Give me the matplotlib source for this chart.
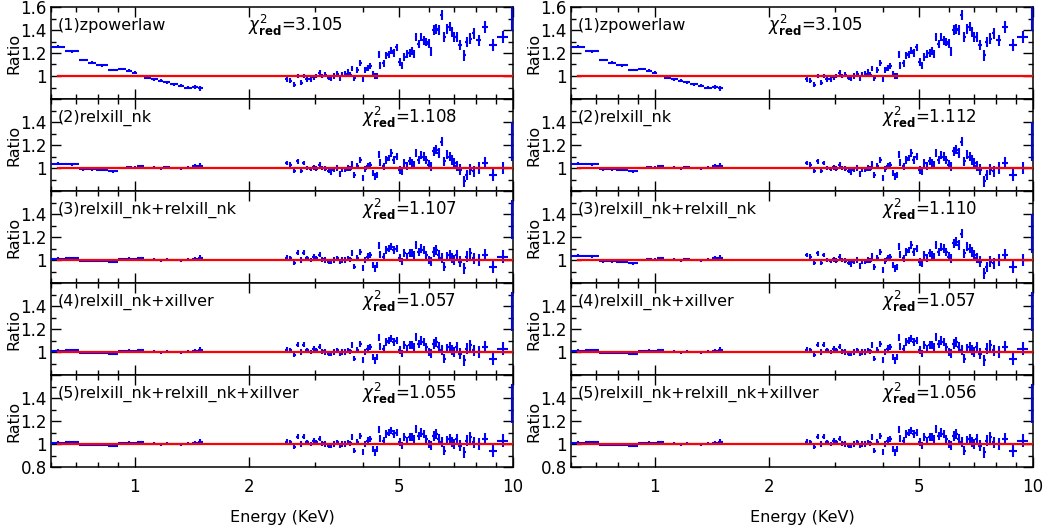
import matplotlib
matplotlib.use("Agg")
import matplotlib.pyplot as plt
from matplotlib.ticker import FixedLocator, LogLocator, NullFormatter, FuncFormatter

# low energy segment (keV): bin centres, half widths
low_e = [0.6275, 0.6825, 0.730, 0.770, 0.820, 0.875, 0.9225, 0.965, 1.000, 1.035,
         1.0775, 1.125, 1.170, 1.215, 1.270, 1.325, 1.385, 1.4425, 1.490]
low_de = [0.0275, 0.0275, 0.020, 0.020, 0.030, 0.025, 0.0225, 0.020, 0.015, 0.020,
          0.0225, 0.025, 0.020, 0.025, 0.030, 0.025, 0.035, 0.0225, 0.025]
low_err = [0.012, 0.012, 0.012, 0.012, 0.011, 0.011, 0.011, 0.012, 0.012, 0.013,
           0.012, 0.012, 0.013, 0.013, 0.013, 0.014, 0.014, 0.016, 0.022]

# high energy segment
high_e = [2.518, 2.579, 2.643, 2.697, 2.752, 2.797, 2.855, 2.914, 2.974, 3.022,
          3.084, 3.128, 3.192, 3.258, 3.304, 3.358, 3.427, 3.483, 3.532, 3.605,
          3.664, 3.716, 3.753, 3.807, 3.869, 3.948, 4.013, 4.070, 4.129, 4.196,
          4.264, 4.325, 4.369, 4.414, 4.459, 4.550, 4.625, 4.690, 4.767, 4.835,
          4.934, 5.014, 5.086, 5.159, 5.243, 5.329, 5.405, 5.482, 5.549, 5.628,
          5.709, 5.802, 5.897, 5.981, 6.067, 6.166, 6.267, 6.357, 6.487, 6.580,
          6.688, 6.797, 6.895, 6.993, 7.108, 7.253, 7.432, 7.553, 7.708, 7.866,
          8.109, 8.445, 8.847, 9.397, 9.935]
high_de = [0.028, 0.030, 0.027, 0.027, 0.025, 0.025, 0.029, 0.030, 0.028, 0.026,
           0.028, 0.027, 0.030, 0.028, 0.025, 0.030, 0.030, 0.025, 0.030, 0.033,
           0.028, 0.025, 0.025, 0.030, 0.035, 0.036, 0.030, 0.030, 0.032, 0.034,
           0.033, 0.026, 0.022, 0.022, 0.030, 0.040, 0.035, 0.035, 0.040, 0.040,
           0.045, 0.040, 0.036, 0.040, 0.043, 0.040, 0.038, 0.036, 0.036, 0.040,
           0.045, 0.048, 0.045, 0.044, 0.048, 0.050, 0.048, 0.055, 0.058, 0.050,
           0.055, 0.055, 0.050, 0.055, 0.065, 0.080, 0.070, 0.070, 0.080, 0.090,
           0.120, 0.150, 0.220, 0.300, 0.040]
high_err = [0.020, 0.020, 0.022, 0.020, 0.022, 0.020, 0.021, 0.020, 0.022, 0.021,
            0.022, 0.021, 0.022, 0.023, 0.022, 0.022, 0.023, 0.022, 0.024, 0.023,
            0.024, 0.023, 0.025, 0.024, 0.025, 0.026, 0.025, 0.026, 0.027, 0.026,
            0.027, 0.028, 0.027, 0.030, 0.029, 0.030, 0.031, 0.030, 0.032, 0.031,
            0.032, 0.033, 0.032, 0.034, 0.033, 0.034, 0.035, 0.034, 0.036, 0.037,
            0.036, 0.038, 0.037, 0.039, 0.038, 0.040, 0.041, 0.040, 0.042, 0.041,
            0.042, 0.043, 0.044, 0.043, 0.045, 0.046, 0.047, 0.046, 0.048, 0.047,
            0.050, 0.052, 0.054, 0.055, 0.170]

# ratios: zpowerlaw
pl_low = [1.256, 1.215, 1.140, 1.115, 1.093, 1.052, 1.060, 1.045, 1.030, 1.000,
          0.985, 0.970, 0.960, 0.945, 0.930, 0.915, 0.900, 0.903, 0.893]
pl_high = [0.970, 0.960, 0.925, 1.000, 0.940, 1.000, 0.970, 0.970, 0.990, 1.000,
           1.030, 1.000, 1.010, 0.985, 0.980, 1.000, 1.020, 0.980, 1.015, 1.020,
           1.035, 1.010, 1.065, 0.980, 1.050, 1.110, 0.970, 1.050, 1.070, 1.090,
           1.020, 1.000, 1.000, 1.190, 1.090, 1.110, 1.180, 1.190, 1.220, 1.200,
           1.250, 1.120, 1.090, 1.165, 1.190, 1.200, 1.220, 1.190, 1.340, 1.280,
           1.340, 1.310, 1.295, 1.280, 1.210, 1.400, 1.410, 1.400, 1.530, 1.340,
           1.410, 1.430, 1.380, 1.340, 1.340, 1.270, 1.180, 1.295, 1.325, 1.370,
           1.310, 1.430, 1.270, 1.340, 1.560]

# relxill_nk (line residual left)
rx_low = [1.038, 1.032, 0.988, 0.988, 0.982, 0.970, 1.000, 1.008, 1.003, 1.015,
          1.000, 1.003, 0.998, 1.005, 1.000, 0.998, 1.003, 1.015, 1.020]
rx_high = [1.045, 1.030, 0.977, 1.058, 0.977, 1.045, 1.000, 0.990, 1.005, 0.995,
           1.030, 1.000, 0.995, 0.977, 0.965, 0.985, 1.000, 0.948, 0.985, 0.985,
           1.000, 0.995, 1.035, 0.940, 1.015, 1.070, 0.913, 0.995, 1.015, 1.030,
           0.957, 0.928, 0.940, 1.116, 1.045, 1.015, 1.070, 1.087, 1.130, 1.070,
           1.100, 0.985, 0.970, 1.045, 1.015, 1.058, 1.045, 1.030, 1.130, 1.070,
           1.116, 1.100, 1.070, 1.030, 1.015, 1.145, 1.160, 1.130, 1.230, 1.058,
           1.116, 1.100, 1.070, 1.045, 1.015, 0.985, 0.884, 0.940, 0.985, 0.970,
           1.000, 1.045, 0.940, 1.000, 1.230]

# two-component fits (flat residuals)
fl_low = [1.012, 1.015, 0.995, 0.993, 0.990, 0.982, 1.010, 1.012, 1.005, 1.015,
          1.000, 1.002, 0.997, 1.003, 1.000, 0.996, 1.002, 1.010, 1.020]
fl_high = [1.020, 1.015, 0.977, 1.064, 1.000, 1.064, 1.015, 1.000, 1.030, 1.015,
           1.045, 1.006, 1.000, 0.985, 0.985, 1.000, 1.015, 0.985, 1.000, 1.000,
           1.015, 1.006, 1.058, 0.942, 1.015, 1.070, 0.928, 1.000, 1.030, 1.045,
           0.957, 0.928, 0.957, 1.130, 1.045, 1.030, 1.087, 1.100, 1.116, 1.087,
           1.100, 1.015, 0.985, 1.058, 1.030, 1.058, 1.058, 1.045, 1.130, 1.070,
           1.100, 1.087, 1.045, 1.000, 0.985, 1.070, 1.087, 1.045, 1.015, 0.942,
           1.030, 1.045, 1.015, 1.000, 1.045, 0.985, 0.928, 1.030, 1.058, 1.015,
           1.000, 1.045, 0.942, 1.030, 1.350]

models = ["(1)zpowerlaw", "(2)relxill_nk", "(3)relxill_nk+relxill_nk",
          "(4)relxill_nk+xillver", "(5)relxill_nk+relxill_nk+xillver"]
chi_left = ["3.105", "1.108", "1.107", "1.057", "1.055"]
chi_right = ["3.105", "1.112", "1.110", "1.057", "1.056"]

sets_left = [(pl_low, pl_high), (rx_low, rx_high), (fl_low, fl_high),
             (fl_low, fl_high), (fl_low, fl_high)]
sets_right = [(pl_low, pl_high), (rx_low, rx_high), (rx_low, rx_high),
              (fl_low, fl_high), (fl_low, fl_high)]

plt.rcParams['font.family'] = 'DejaVu Sans'
plt.rcParams['mathtext.fontset'] = 'dejavusans'

fig = plt.figure(figsize=(10.49, 5.29), dpi=100)

x_starts = [51 / 1049, 571 / 1049]
w = 462 / 1049
bottom = 1 - 467 / 529
h = 460 / 529 / 5


def make_fmt(show_top, show_bottom):
    def f(v, pos):
        if abs(v - 1.6) < 1e-6 and not show_top:
            return ""
        if abs(v - 0.8) < 1e-6 and not show_bottom:
            return ""
        if abs(v - 1.0) < 1e-6:
            return "1"
        return f"{v:.1f}"
    return f


for col, (x0, sets, chis) in enumerate([(x_starts[0], sets_left, chi_left),
                                         (x_starts[1], sets_right, chi_right)]):
    for i in range(5):
        ax = fig.add_axes([x0, bottom + (4 - i) * h, w, h])
        lo, hi = sets[i]
        ax.errorbar(low_e, lo, xerr=low_de, yerr=low_err, fmt='none',
                    ecolor='#0000ff', elinewidth=1.5, capsize=0, zorder=3)
        ax.errorbar(high_e, hi, xerr=high_de, yerr=high_err, fmt='none',
                    ecolor='#0000ff', elinewidth=1.5, capsize=0, zorder=3)
        ax.plot([low_e[0], high_e[-1]], [1, 1], color='red', lw=1.6, zorder=5)

        ax.set_xscale('log')
        ax.set_xlim(0.6, 10)
        ax.set_ylim(0.8, 1.6)
        ax.xaxis.set_major_locator(FixedLocator([1, 2, 5, 10]))
        ax.xaxis.set_minor_locator(LogLocator(base=10, subs=range(2, 10)))
        ax.xaxis.set_minor_formatter(NullFormatter())
        if i == 4:
            ax.xaxis.set_major_formatter(FuncFormatter(lambda v, p: f"{v:g}"))
            ax.set_xlabel("Energy (KeV)", fontsize=11.5, labelpad=10)
        else:
            ax.xaxis.set_major_formatter(NullFormatter())
        ax.yaxis.set_major_locator(FixedLocator([0.8, 1.0, 1.2, 1.4, 1.6]))
        ax.yaxis.set_minor_locator(FixedLocator([0.9, 1.1, 1.3, 1.5]))
        ax.yaxis.set_major_formatter(FuncFormatter(make_fmt(i == 0, i == 4)))

        ax.tick_params(which='both', direction='in', top=True, right=True,
                       labelsize=12, width=1)
        ax.tick_params(which='major', length=7)
        ax.tick_params(which='minor', length=3.5)
        ax.tick_params(axis='x', pad=8)
        ax.tick_params(axis='y', pad=3)
        for s in ax.spines.values():
            s.set_linewidth(1.1)

        ax.text(-0.08, 0.5, "Ratio", rotation=90, ha='center', va='center',
                fontsize=11.5, transform=ax.transAxes)
        ax.text(0.014, 0.80, models[i], ha='left', va='center', fontsize=11.5,
                transform=ax.transAxes)
        cx = 0.426 if i == 0 else 0.673
        ax.text(cx, 0.80, r"$\chi^2_{\mathbf{red}}$=" + chis[i], ha='left',
                va='center', fontsize=12, transform=ax.transAxes)

fig.savefig("out.png", dpi=100)
